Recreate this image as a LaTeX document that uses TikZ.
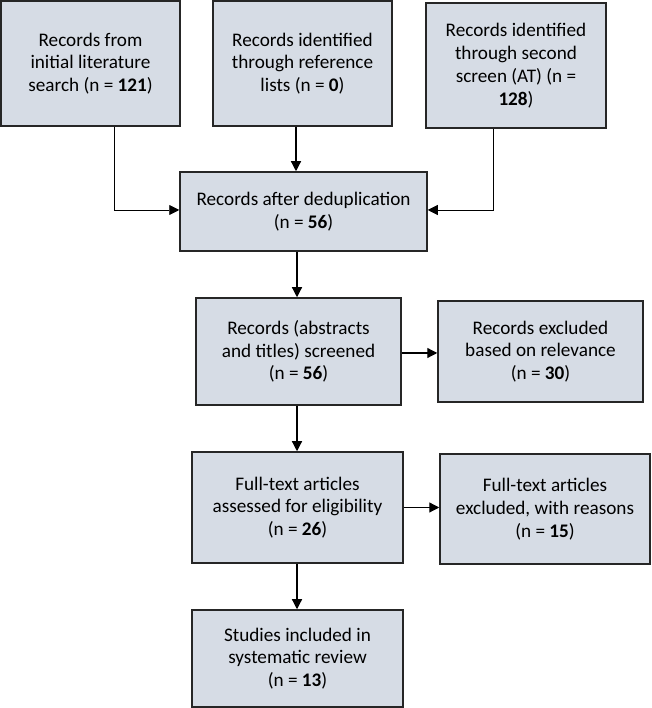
\documentclass[tikz,border=0pt]{standalone}
\usepackage{fontspec}
\setmainfont{Carlito}
\usetikzlibrary{arrows.meta}
\definecolor{boxfill}{HTML}{D6DCE5}
\definecolor{boxline}{HTML}{262626}
\begin{document}
\begin{tikzpicture}[x=1pt,y=1pt,
  box/.style={draw=boxline,fill=boxfill,line width=1.5pt,align=center,inner sep=0pt,
    font=\fontsize{19.2}{22.8}\selectfont},
  arr/.style={line width=1.2pt,-{Triangle[length=10pt,width=10pt]}},
  thin arr/.style={line width=0.8pt,-{Triangle[length=10pt,width=10pt]}}]
\useasboundingbox (0,0) rectangle (651,708);
\node[box,minimum width=179pt,minimum height=125pt] (b1) at (90.5,644.5) {Records from\\initial literature\\search (n = \textbf{121})};
\node[box,minimum width=179pt,minimum height=125pt] (b2) at (302.5,644.5) {Records identified\\through reference\\lists (n = \textbf{0})};
\node[box,minimum width=180pt,minimum height=125pt] (b3) at (516,642.5) {Records identified\\through second\\screen (AT) (n =\\\textbf{128})};
\node[box,minimum width=247pt,minimum height=79pt] (dedup) at (303.5,496.5) {Records after deduplication\\(n = \textbf{56})};
\node[box,minimum width=205pt,minimum height=107pt] (scr) at (298.5,356.5) {Records (abstracts\\and titles) screened\\(n = \textbf{56})};
\node[box,minimum width=205pt,minimum height=101pt] (ex1) at (540.5,356.5) {Records excluded\\based on relevance\\(n = \textbf{30})};
\node[box,minimum width=211pt,minimum height=111pt] (ft) at (297.5,200.5) {Full-text articles\\assessed for eligibility\\(n = \textbf{26})};
\node[box,minimum width=210pt,minimum height=110pt] (ex2) at (545,199) {Full-text articles\\excluded, with reasons\\(n = \textbf{15})};
\node[box,minimum width=211pt,minimum height=97pt] (st) at (297.5,49.5) {Studies included in\\systematic review\\(n = \textbf{13})};
\draw[thin arr] ([xshift=23.5pt]b1.south) |- ([yshift=1.5pt]dedup.west);
\draw[arr] ([xshift=-6.5pt]b2.south) -- ([xshift=-7.5pt]dedup.north);
\draw[thin arr] ([xshift=-23pt]b3.south) |- ([yshift=1.5pt]dedup.east);
\draw[arr] ([xshift=-6.5pt]dedup.south) -- ([xshift=-1.5pt]scr.north);
\draw[arr] ([yshift=-1.5pt]scr.east) -- ([yshift=-1.5pt]ex1.west);
\draw[arr] ([xshift=-1.5pt]scr.south) -- ([xshift=-0.5pt]ft.north);
\draw[arr] (ft.east) -- ([yshift=1.5pt]ex2.west);
\draw[arr] ([xshift=-0.5pt]ft.south) -- ([xshift=-0.5pt]st.north);
\end{tikzpicture}
\end{document}
